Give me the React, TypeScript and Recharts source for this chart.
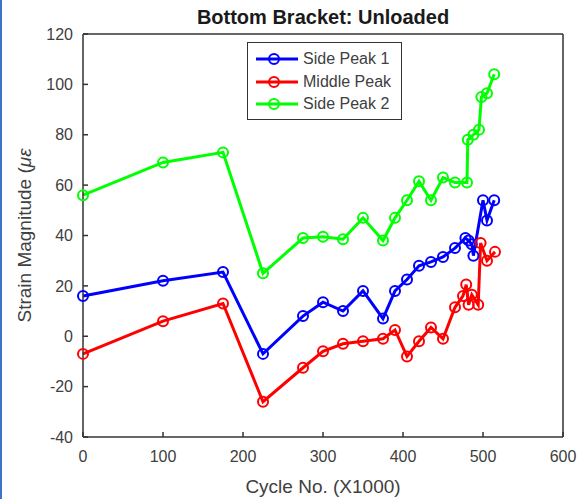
import React from 'react';
import { LineChart, Line, XAxis, YAxis, Label } from 'recharts';

// cycle numbers (x1000) per series
const cyclesSide1 = [0, 100, 175, 225, 275, 300, 325, 350, 375, 390, 405, 420, 435, 450, 465, 478, 482, 486, 488, 500, 505, 514];
const cyclesMiddle = [0, 100, 175, 225, 275, 300, 325, 350, 375, 390, 405, 420, 435, 450, 465, 475, 479, 482, 486, 494, 497, 505, 515];
const cyclesSide2 = [0, 100, 175, 225, 275, 300, 325, 350, 375, 390, 405, 420, 435, 450, 465, 480, 481, 488, 495, 498, 505, 514];

// strain magnitude (micro-strain)
const sidePeak1 = [16, 22, 25.5, -7, 8, 13.5, 10, 18, 7, 18, 22.5, 28, 29.5, 31.5, 35, 39, 38, 36.5, 32, 54, 46, 54];
const middlePeak = [-7, 6, 13, -26, -12.5, -6, -3, -2, -1, 2.5, -8, -2, 3.5, -1, 11.5, 16, 20.5, 12.5, 16.5, 12.5, 37, 30, 33.5];
const sidePeak2 = [56, 69, 73, 25, 39, 39.5, 38.5, 47, 38, 47, 54, 61.5, 54, 63, 61, 61, 78, 80, 82, 95, 96.5, 104];

const xTicks = [0, 100, 200, 300, 400, 500, 600];
const yTicks = [-40, -20, 0, 20, 40, 60, 80, 100, 120];

const series = [
    { key: 'sp1', name: 'Side Peak 1', color: '#0000ff', x: cyclesSide1, y: sidePeak1 },
    { key: 'mid', name: 'Middle Peak', color: '#ff0000', x: cyclesMiddle, y: middlePeak },
    { key: 'sp2', name: 'Side Peak 2', color: '#00ff00', x: cyclesSide2, y: sidePeak2 },
];

const FONT = '"Liberation Sans", Arial, Helvetica, sans-serif';
const AXIS = '#333';
const TEXT = '#404040';

const LegendBox = () => (
    <div style={{ position: 'absolute', left: 247, top: 42, width: 153, height: 71, border: `1px solid ${AXIS}`, background: '#fff', paddingTop: 5 }}>
        {series.map(s => (
            <div key={s.key} style={{ height: 22.5, display: 'flex', alignItems: 'center' }}>
                <svg width={55} height={22} style={{ flex: 'none' }}>
                    <line x1={8} x2={50} y1={11} y2={11} stroke={s.color} strokeWidth={3} />
                    <circle cx={26} cy={11} r={5} stroke={s.color} strokeWidth={2} fill="none" />
                </svg>
                <span style={{ fontFamily: FONT, fontSize: 16, color: TEXT, whiteSpace: 'nowrap' }}>{s.name}</span>
            </div>
        ))}
    </div>
);

export default function App() {
    return (
        <div style={{ position: 'relative', width: 577, height: 499, background: '#fff' }}>
            <style>{`body{margin:0}`}</style>
            <div style={{ position: 'absolute', left: 0, top: 0, width: 2, height: 499, background: '#3f73c8' }} />
            <LineChart width={577} height={499} margin={{ top: 33, right: 13, left: 0, bottom: 0 }}>
                <XAxis
                    xAxisId="bottom"
                    dataKey="x"
                    type="number"
                    domain={[0, 600]}
                    ticks={xTicks}
                    height={62}
                    tickSize={-5}
                    tickMargin={19}
                    stroke={AXIS}
                    strokeWidth={1.5}
                    tick={{ fill: TEXT, fontSize: 16, fontFamily: FONT }}
                >
                    <Label
                        content={({ viewBox }: any) => (
                            <text x={viewBox.x + viewBox.width / 2} y={viewBox.y + 56} textAnchor="middle" fill={TEXT} fontSize={19} fontFamily={FONT}>
                                Cycle No. (X1000)
                            </text>
                        )}
                    />
                </XAxis>
                <XAxis
                    xAxisId="top"
                    orientation="top"
                    dataKey="x"
                    type="number"
                    domain={[0, 600]}
                    ticks={xTicks}
                    height={1}
                    tickSize={-5}
                    tick={false}
                    stroke={AXIS}
                    strokeWidth={1.5}
                >
                    <Label
                        content={({ viewBox }: any) => (
                            <text x={viewBox.x + viewBox.width / 2} y={viewBox.y - 9} textAnchor="middle" fill="#1a1a1a" fontSize={20} fontWeight="bold" fontFamily={FONT}>
                                Bottom Bracket: Unloaded
                            </text>
                        )}
                    />
                </XAxis>
                <YAxis
                    yAxisId="left"
                    type="number"
                    domain={[-40, 120]}
                    ticks={yTicks}
                    width={83}
                    tickSize={-5}
                    tickMargin={15}
                    stroke={AXIS}
                    strokeWidth={1.5}
                    tick={{ fill: TEXT, fontSize: 16, fontFamily: FONT }}
                >
                    <Label
                        content={({ viewBox }: any) => {
                            const cx = viewBox.x + 31;
                            const cy = viewBox.y + viewBox.height / 2;
                            return (
                                <text x={cx} y={cy} transform={`rotate(-90 ${cx} ${cy})`} textAnchor="middle" fill={TEXT} fontSize={19} fontFamily={FONT}>
                                    Strain Magnitude (<tspan fontStyle="italic">με</tspan>
                                </text>
                            );
                        }}
                    />
                </YAxis>
                <YAxis
                    yAxisId="right"
                    orientation="right"
                    type="number"
                    domain={[-40, 120]}
                    ticks={yTicks}
                    width={1}
                    tickSize={-5}
                    tick={false}
                    stroke={AXIS}
                    strokeWidth={1.5}
                />
                {/* invisible series so the top and right frame axes get drawn */}
                <Line
                    xAxisId="top"
                    yAxisId="right"
                    data={cyclesSide2.map((c, i) => ({ x: c, v: sidePeak2[i] }))}
                    dataKey="v"
                    stroke="none"
                    dot={false}
                    activeDot={false}
                    legendType="none"
                    isAnimationActive={false}
                />
                {series.map(s => (
                    <Line
                        key={s.key}
                        xAxisId="bottom"
                        yAxisId="left"
                        name={s.name}
                        data={s.x.map((c, i) => ({ x: c, v: s.y[i] }))}
                        dataKey="v"
                        stroke={s.color}
                        strokeWidth={3}
                        dot={{ r: 5, stroke: s.color, strokeWidth: 2, fill: 'none' }}
                        activeDot={false}
                        isAnimationActive={false}
                    />
                ))}
            </LineChart>
            <LegendBox />
        </div>
    );
}
